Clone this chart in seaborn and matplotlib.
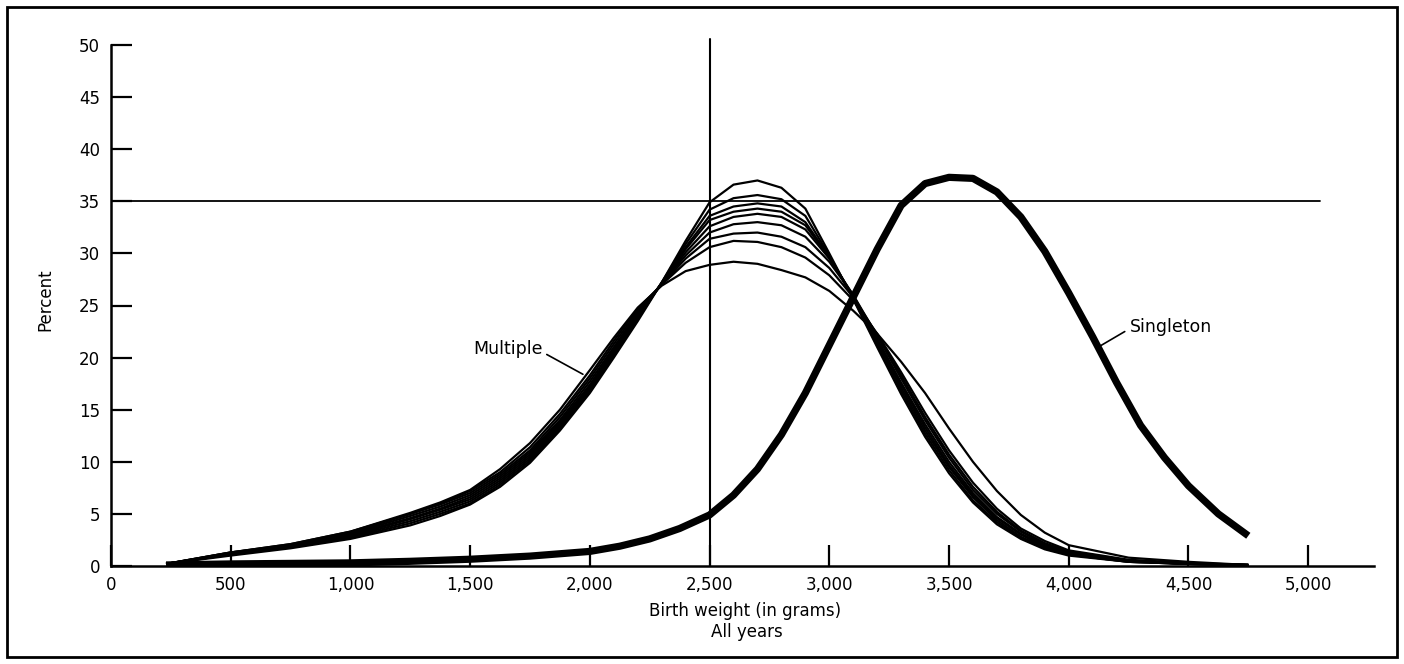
import matplotlib
matplotlib.use("Agg")
import matplotlib.pyplot as plt
import seaborn as sns
import pandas as pd
from matplotlib.ticker import FuncFormatter
from matplotlib.patches import Rectangle

# ---------------- data ----------------
single_weights = [230, 500, 750, 1000, 1250, 1500, 1750, 2000, 2125, 2250, 2375,
                  2500, 2600, 2700, 2800, 2900, 3000, 3100, 3200, 3300, 3400,
                  3500, 3600, 3700, 3800, 3900, 4000, 4100, 4200, 4300, 4400,
                  4500, 4625, 4750]
singleton = [0.1, 0.2, 0.25, 0.3, 0.45, 0.65, 0.95, 1.4, 1.9, 2.6, 3.6,
             4.9, 6.8, 9.3, 12.6, 16.6, 21.2, 25.8, 30.4, 34.6, 36.7,
             37.3, 37.2, 35.9, 33.5, 30.2, 26.2, 22.0, 17.6, 13.5, 10.4,
             7.7, 5.0, 2.9]

mult_weights = [230, 500, 750, 1000, 1250, 1375, 1500, 1625, 1750, 1875, 2000,
                2100, 2200, 2300, 2400, 2500, 2600, 2700, 2800, 2900, 3000,
                3100, 3200, 3300, 3400, 3500, 3600, 3700, 3800, 3900, 4000,
                4250, 4500, 4750]
multiple_a = [0.2, 1.0, 1.7, 2.6, 3.9, 4.8, 5.9, 7.6, 9.9, 13.0, 16.6, 20.0,
              23.5, 27.2, 31.2, 34.9, 36.6, 37.0, 36.3, 34.3, 30.0, 25.6,
              21.0, 16.5, 12.4, 8.9, 6.1, 4.0, 2.6, 1.6, 1.0, 0.4, 0.2, 0.1]
multiple_b = [0.2, 1.1, 1.8, 2.7, 4.1, 5.0, 6.0, 7.8, 10.1, 13.2, 16.8, 20.2,
              23.7, 27.2, 30.9, 34.2, 35.3, 35.6, 35.2, 33.6, 29.8, 25.7,
              21.2, 16.8, 12.7, 9.2, 6.3, 4.2, 2.7, 1.7, 1.1, 0.4, 0.2, 0.1]
multiple_c = [0.2, 1.1, 1.8, 2.8, 4.3, 5.2, 6.2, 8.0, 10.3, 13.4, 17.0, 20.4,
              23.8, 27.2, 30.6, 33.6, 34.5, 34.8, 34.5, 33.0, 29.7, 25.8,
              21.4, 17.1, 13.0, 9.5, 6.6, 4.4, 2.8, 1.8, 1.1, 0.4, 0.2, 0.1]
multiple_d = [0.2, 1.2, 1.9, 2.9, 4.5, 5.4, 6.4, 8.2, 10.5, 13.6, 17.2, 20.6,
              24.0, 27.1, 30.4, 33.2, 34.0, 34.3, 34.0, 32.7, 29.6, 25.9,
              21.6, 17.4, 13.3, 9.7, 6.8, 4.6, 3.0, 1.9, 1.2, 0.5, 0.2, 0.1]
multiple_e = [0.2, 1.2, 1.9, 3.0, 4.6, 5.5, 6.6, 8.4, 10.7, 13.8, 17.4, 20.8,
              24.1, 27.1, 30.1, 32.6, 33.5, 33.8, 33.5, 32.3, 29.5, 26.0,
              21.8, 17.6, 13.6, 10.0, 7.0, 4.7, 3.1, 2.0, 1.2, 0.5, 0.2, 0.1]
multiple_f = [0.2, 1.2, 2.0, 3.1, 4.8, 5.7, 6.8, 8.6, 10.9, 14.0, 17.7, 21.0,
              24.3, 27.1, 29.8, 32.0, 32.8, 33.0, 32.7, 31.6, 29.2, 26.0,
              22.1, 18.0, 14.0, 10.4, 7.3, 5.0, 3.3, 2.1, 1.3, 0.5, 0.2, 0.1]
multiple_g = [0.2, 1.3, 2.0, 3.2, 5.0, 5.9, 7.0, 8.8, 11.1, 14.3, 18.0, 21.3,
              24.5, 27.0, 29.5, 31.4, 31.9, 32.0, 31.6, 30.6, 28.6, 25.8,
              22.2, 18.3, 14.3, 10.7, 7.6, 5.2, 3.4, 2.2, 1.4, 0.5, 0.2, 0.1]
multiple_h = [0.2, 1.3, 2.1, 3.3, 5.0, 6.0, 7.2, 9.0, 11.4, 14.6, 18.3, 21.6,
              24.7, 27.0, 29.1, 30.6, 31.2, 31.1, 30.6, 29.6, 27.9, 25.5,
              22.3, 18.6, 14.7, 11.1, 8.0, 5.5, 3.6, 2.4, 1.5, 0.6, 0.3, 0.1]
multiple_i = [0.2, 1.3, 2.1, 3.3, 5.1, 6.1, 7.3, 9.3, 11.8, 15.0, 18.8, 21.9,
              24.8, 26.9, 28.3, 28.9, 29.2, 29.0, 28.4, 27.7, 26.4, 24.5,
              22.3, 19.6, 16.6, 13.2, 10.0, 7.2, 4.9, 3.2, 2.0, 0.8, 0.4, 0.1]

multiple_series = {
    "A": multiple_a, "B": multiple_b, "C": multiple_c, "D": multiple_d,
    "E": multiple_e, "F": multiple_f, "G": multiple_g, "H": multiple_h,
    "I": multiple_i,
}

x_ticks = [0, 500, 1000, 1500, 2000, 2500, 3000, 3500, 4000, 4500, 5000]
y_ticks = [0, 5, 10, 15, 20, 25, 30, 35, 40, 45, 50]
ref_weight = 2500
ref_percent = 35

# ---------------- figure ----------------
sns.set_theme(style="ticks")
plt.rcParams["font.family"] = ["DejaVu Sans"]
plt.rcParams["text.color"] = "black"
plt.rcParams["axes.labelcolor"] = "black"

W, H = 1404, 664
fig = plt.figure(figsize=(W / 100, H / 100), dpi=100)
ax = fig.add_axes([111 / W, 1 - 566 / H, (1374 - 111) / W, (566 - 45) / H])
ax.set_facecolor("white")
fig.patch.set_facecolor("white")

rows = []
for name, vals in multiple_series.items():
    for w, v in zip(mult_weights, vals):
        rows.append({"weight": w, "percent": v, "curve": name})
df_mult = pd.DataFrame(rows)
df_single = pd.DataFrame({"weight": single_weights, "percent": singleton})

sns.lineplot(data=df_mult, x="weight", y="percent", units="curve",
             estimator=None, color="black", lw=1.6, ax=ax, sort=True,
             solid_joinstyle="round", solid_capstyle="butt")
sns.lineplot(data=df_single, x="weight", y="percent", color="black",
             lw=5.2, ax=ax, solid_joinstyle="round", solid_capstyle="butt")

# reference lines
ax.plot([0, 5050], [ref_percent, ref_percent], color="black", lw=1.3)
ax.plot([ref_weight, ref_weight], [0, 50.6], color="black", lw=1.5,
        clip_on=False)

ax.set_xlim(0, 5275)
ax.set_ylim(0, 50)
ax.set_xticks(x_ticks)
ax.set_yticks(y_ticks)
ax.xaxis.set_major_formatter(FuncFormatter(lambda v, p: f"{int(v):,}"))
ax.tick_params(axis="both", direction="in", length=15, width=1.6,
               colors="black", labelsize=12, pad=7)
ax.tick_params(axis="y", pad=8)
for s in ["top", "right"]:
    ax.spines[s].set_visible(False)
for s in ["left", "bottom"]:
    ax.spines[s].set_linewidth(1.8)
    ax.spines[s].set_color("black")

ax.set_xlabel("")
ax.set_ylabel("")
fig.text(45 / W, 1 - 300 / H, "Percent", rotation=90, ha="center",
         va="center", fontsize=12, color="black")
fig.text(745 / W, 1 - 611 / H, "Birth weight (in grams)", ha="center",
         va="center", fontsize=12, color="black")
fig.text(747 / W, 1 - 632 / H, "All years", ha="center", va="center",
         fontsize=12, color="black")

# annotations
ax.text(1804, 20.8, "Multiple", ha="right", va="center", fontsize=12.5,
        color="black")
ax.plot([1820, 1971], [20.3, 18.4], color="black", lw=1.2)
ax.text(4255, 22.9, "Singleton", ha="left", va="center", fontsize=12.5,
        color="black")
ax.plot([4234, 4130], [22.5, 21.1], color="black", lw=1.2)

# outer frame
fig.patches.append(Rectangle((7 / W, 7 / H), (1397 - 7) / W, (657 - 7) / H,
                             transform=fig.transFigure, fill=False,
                             edgecolor="black", lw=2.0))

fig.savefig("out.png", dpi=100, facecolor="white")
